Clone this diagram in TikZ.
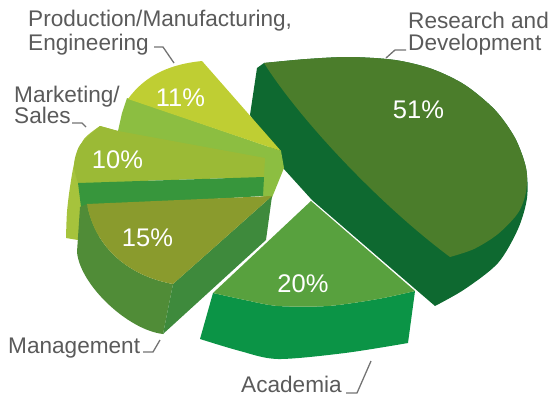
\documentclass[tikz,border=0pt]{standalone}
\usepackage{fontspec}
\setmainfont{Liberation Sans}
\definecolor{rdtop}{HTML}{4B7D2B}
\definecolor{rdside}{HTML}{0E6930}
\definecolor{actop}{HTML}{58A13E}
\definecolor{acside}{HTML}{0B9446}
\definecolor{mgtop}{HTML}{8A9B2D}
\definecolor{mgside}{HTML}{508C37}
\definecolor{mgrad}{HTML}{3E8A3C}
\definecolor{mktop}{HTML}{9BBA36}
\definecolor{mkside}{HTML}{A6C33C}
\definecolor{mkwall}{HTML}{37963C}
\definecolor{prtop}{HTML}{BFCE33}
\definecolor{prwall}{HTML}{8CBE41}
\definecolor{lbl}{HTML}{5A5A5A}
\begin{document}
\begin{tikzpicture}[x=1pt,y=-1pt,
  lab/.style={text=lbl,font=\fontsize{22.6}{22}\selectfont,inner sep=0pt,anchor=base west},
  pct/.style={text=white,font=\fontsize{25.5}{25}\selectfont,inner sep=0pt,anchor=base},
  leader/.style={draw=lbl!85,line width=1.3pt}]
\useasboundingbox (0,0) rectangle (556,396);
% Academia 20%
\fill[acside] (213,293) -- plot[smooth] coordinates {(213,293) (245,300) (278,306) (328,306) (378,299) (415,291)} -- (408,343) -- plot[smooth] coordinates {(408,343) (345,353) (278,359) (240,351) (200,339)} -- cycle;
\fill[actop] (311,201) -- (415,291) -- plot[smooth] coordinates {(415,291) (378,299) (328,306) (278,306) (245,300) (213,293)} -- cycle;
% Research and Development 51%
\fill[rdside] (257,68) -- (264,63) -- plot[smooth] coordinates {(264,63) (307,59) (350,57) (395,60) (432,69) (465,85) (495,110) (515,138) (526,168) (527,198) (518,229) (498,263) (465,289) (435,306)} -- (312,200) -- (283,168) -- (250,115) -- cycle;
\fill[rdtop] (264,63) -- plot[smooth] coordinates {(264,63) (307,59) (350,57) (395,60) (432,69) (465,85) (495,110) (515,138) (526,168) (526,192) (518,213) (498,234) (474,249) (450,257)} .. controls (380,205) and (300,120) .. (264,63) -- cycle;
% Production 11%
\fill[prwall] (127,98) -- (281,151) -- (284,168) -- (271,200) -- (118,131) -- (122,113) -- cycle;
\fill[prtop] (128,99) .. controls (146,74) and (172,64) .. (202,61) -- (281,151) -- cycle;
% Marketing 10%
\fill[mkside] (100,126) -- (118,131) -- (160,200) -- (90,242) -- (66,238) -- plot[smooth] coordinates {(66,238) (67,212) (70,187) (75,160) (84,139) (100,126)} -- cycle;
\fill[mktop] (100,126) -- (118,131) -- (265,158) -- (264,177) -- (78,183) -- plot[smooth] coordinates {(78,183) (74,165) (80,145) (100,126)} -- cycle;
\fill[mkwall] (78,183) -- (264,177) -- (263,196) -- (81,207) -- cycle;
% Management 15%
\fill[mgside] (80,207) -- (87,204) .. controls (95,248) and (129,276) .. (173,284) -- (163,334) .. controls (128,330) and (80,285) .. (77,252) -- cycle;
\fill[mgrad] (272,196) -- (173,284) -- (163,334) -- (266,240) -- cycle;
\fill[mgtop] (87,204) -- (272,196) -- (173,284) .. controls (129,276) and (95,248) .. (87,204) -- cycle;
% percentages
\node[pct] (p51) at (418.5,118) {51\%};
\node[pct] (p11) at (180.5,106) {11\%};
\node[pct] (p10) at (117.5,168) {10\%};
\node[pct] (p15) at (147.5,246) {15\%};
\node[pct] (p20) at (303,292) {20\%};
% labels
\node[lab] (lprod1) at (28,27) {Production/Manufacturing,};
\node[lab] (lprod2) at (28,50) {Engineering};
\node[lab] (lrd1) at (408,29) {Research and};
\node[lab] (lrd2) at (408,50) {Development};
\node[lab] (lmk1) at (14,102) {Marketing/};
\node[lab] (lmk2) at (14,123) {Sales};
\node[lab] (lmg) at (8,353) {Management};
\node[lab] (lac) at (241,392) {Academia};
% leaders
\coordinate (a1) at (154,47); \coordinate (a2) at (163,47); \coordinate (a3) at (174,63);
\coordinate (b1) at (406,50); \coordinate (b2) at (395,50); \coordinate (b3) at (386,58);
\coordinate (c1) at (72,123); \coordinate (c2) at (82,123); \coordinate (c3) at (86,127);
\coordinate (d1) at (143,352); \coordinate (d2) at (153,352); \coordinate (d3) at (160,340);
\coordinate (e1) at (346,393); \coordinate (e2) at (357,393); \coordinate (e3) at (371,361);
\draw[leader] (a1) -- (a2) -- (a3);
\draw[leader] (b1) -- (b2) -- (b3);
\draw[leader] (c1) -- (c2) -- (c3);
\draw[leader] (d1) -- (d2) -- (d3);
\draw[leader] (e1) -- (e2) -- (e3);
\end{tikzpicture}
\end{document}
